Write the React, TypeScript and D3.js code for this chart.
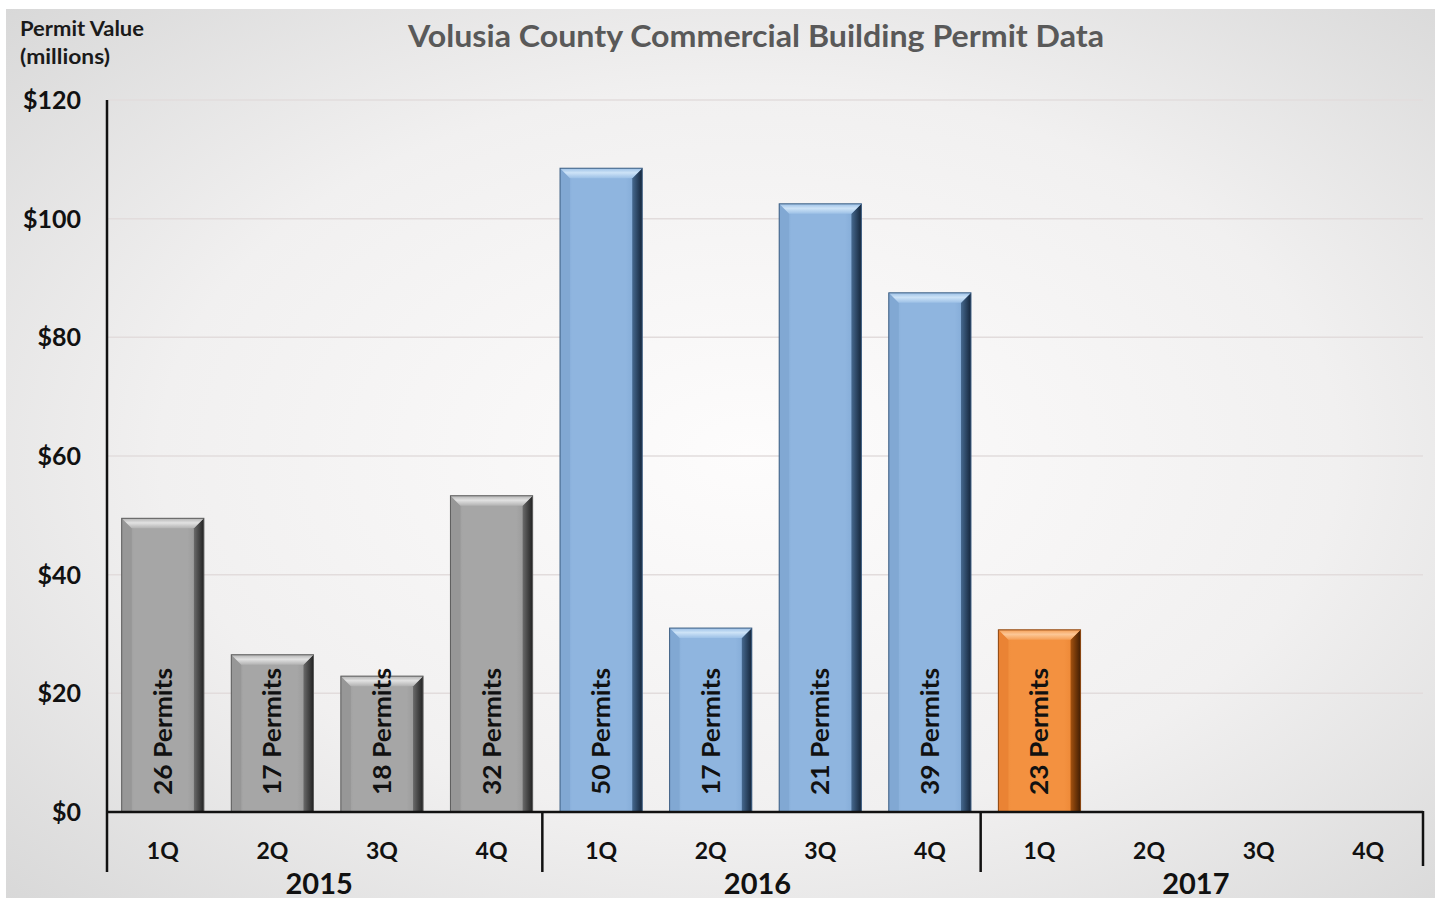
import React from "react";
import * as d3 from "d3";

const quarters = ["1Q", "2Q", "3Q", "4Q", "1Q", "2Q", "3Q", "4Q", "1Q", "2Q", "3Q", "4Q"];
const years = ["2015", "2016", "2017"];
const values: (number | null)[] = [49.5, 26.5, 22.9, 53.3, 108.5, 31.0, 102.5, 87.5, 30.7, null, null, null];
const permits: (number | null)[] = [26, 17, 18, 32, 50, 17, 21, 39, 23, null, null, null];
const yTicks = [0, 20, 40, 60, 80, 100, 120];

const W = 1435;
const H = 903;
const X0 = 108;
const X1 = 1423;
const Y0 = 812;
const Y1 = 100;

const palettes = {
  gray: { base: "#a6a6a6", baseEdge: "#8e8e8e", top1: "#e2e2e2", top2: "#b2b2b2", right1: "#6a6a6a", right2: "#222222", left: "#979797", stroke: "#5c5c5c" },
  blue: { base: "#8fb5df", baseEdge: "#7ba3d0", top1: "#cde3f7", top2: "#9cc0e6", right1: "#46698f", right2: "#14253a", left: "#81a8d3", stroke: "#3d5e82" },
  orange: { base: "#f39140", baseEdge: "#e6802e", top1: "#fcc796", top2: "#f59f56", right1: "#a5520f", right2: "#421e03", left: "#ea8334", stroke: "#8a4510" },
};

const FONT = "Lato, 'Open Sans', sans-serif";

export default function App() {
  const x = d3.scaleBand<number>().domain(d3.range(12)).range([X0, X1]).paddingInner(0.25).paddingOuter(0.125);
  const y = d3.scaleLinear().domain([0, 120]).range([Y0, Y1]);
  const step = (X1 - X0) / 12;
  const bw = x.bandwidth();
  const b = 10;

  const paletteFor = (i: number) => (i < 4 ? "gray" : i < 8 ? "blue" : "orange");

  return (
    <svg width={W} height={H} style={{ display: "block", position: "absolute", left: 0, top: 0 }}>
      <defs>
        <radialGradient id="bg" cx="52%" cy="50%" r="75%">
          <stop offset="0%" stopColor="#fdfcfc" />
          <stop offset="55%" stopColor="#f1f0f0" />
          <stop offset="100%" stopColor="#d6d6d6" />
        </radialGradient>
        {Object.entries(palettes).map(([k, p]) => (
          <React.Fragment key={k}>
            <linearGradient id={`body-${k}`} x1="0" x2="1" y1="0" y2="0">
              <stop offset="0%" stopColor={p.baseEdge} />
              <stop offset="15%" stopColor={p.base} />
              <stop offset="80%" stopColor={p.base} />
              <stop offset="100%" stopColor={p.baseEdge} />
            </linearGradient>
            <linearGradient id={`top-${k}`} x1="0" x2="0" y1="0" y2="1">
              <stop offset="0%" stopColor={p.top2} />
              <stop offset="45%" stopColor={p.top1} />
              <stop offset="100%" stopColor={p.top2} />
            </linearGradient>
            <linearGradient id={`right-${k}`} x1="0" x2="1" y1="0" y2="0">
              <stop offset="0%" stopColor={p.right1} />
              <stop offset="100%" stopColor={p.right2} />
            </linearGradient>
          </React.Fragment>
        ))}
      </defs>

      <rect x={0} y={0} width={W} height={H} fill="#ffffff" />
      <rect x={6} y={9} width={W - 6} height={889} fill="url(#bg)" />

      {/* gridlines */}
      {yTicks.filter((t) => t > 0).map((t) => (
        <line key={t} x1={X0} x2={X1} y1={y(t)} y2={y(t)} stroke="#e2dcdc" strokeWidth={1.5} />
      ))}

      {/* title */}
      <text x={756} y={47} textAnchor="middle" fontFamily={FONT} fontWeight={700} fontSize={31} fill="#595959" textLength={696} lengthAdjust="spacingAndGlyphs">
        Volusia County Commercial Building Permit Data
      </text>
      <text x={20} y={36} fontFamily={FONT} fontWeight={700} fontSize={20} fill="#1a1a1a" textLength={124} lengthAdjust="spacingAndGlyphs">Permit Value</text>
      <text x={20} y={64} fontFamily={FONT} fontWeight={700} fontSize={20} fill="#1a1a1a" textLength={90} lengthAdjust="spacingAndGlyphs">(millions)</text>

      {/* y tick labels */}
      {yTicks.map((t) => (
        <text key={t} x={81} y={y(t) + 9} textAnchor="end" fontFamily={FONT} fontWeight={700} fontSize={25} fill="#111">
          {`$${t}`}
        </text>
      ))}

      {/* bars */}
      {values.map((v, i) => {
        if (v == null) return null;
        const k = paletteFor(i);
        const p = (palettes as any)[k];
        const x0 = x(i)!;
        const x1 = x0 + bw;
        const y0 = y(v);
        const y1 = y(0);
        return (
          <g key={i}>
            <rect x={x0} y={y0} width={bw} height={y1 - y0} fill={`url(#body-${k})`} />
            <polygon points={`${x0},${y0} ${x0 + b},${y0 + b} ${x0 + b},${y1} ${x0},${y1}`} fill={p.left} />
            <polygon points={`${x1},${y0} ${x1},${y1} ${x1 - b},${y1} ${x1 - b},${y0 + b}`} fill={`url(#right-${k})`} />
            <polygon points={`${x0},${y0} ${x1},${y0} ${x1 - b},${y0 + b} ${x0 + b},${y0 + b}`} fill={`url(#top-${k})`} />
            <rect x={x0} y={y0} width={bw} height={y1 - y0} fill="none" stroke={p.stroke} strokeWidth={1} />
            <text
              transform={`translate(${x0 + bw / 2 + 9},${y1 - 17}) rotate(-90)`}
              fontFamily={FONT}
              fontWeight={700}
              fontSize={25}
              fill="#111"
              textLength={127}
              lengthAdjust="spacingAndGlyphs"
            >
              {`${permits[i]} Permits`}
            </text>
          </g>
        );
      })}

      {/* axes */}
      <line x1={X0 - 1} x2={X1} y1={Y0} y2={Y0} stroke="#111" strokeWidth={2.5} />
      <line x1={X0 - 1} x2={X0 - 1} y1={Y1} y2={872} stroke="#111" strokeWidth={2.5} />
      {[4, 8].map((g) => (
        <line key={g} x1={X0 + g * step - 4} x2={X0 + g * step - 4} y1={Y0} y2={872} stroke="#111" strokeWidth={2.5} />
      ))}
      <line x1={X1} x2={X1} y1={Y0 - 1} y2={866} stroke="#111" strokeWidth={2.5} />

      {/* quarter labels */}
      {quarters.map((q, i) => (
        <text key={i} x={x(i)! + bw / 2} y={859} textAnchor="middle" fontFamily={FONT} fontWeight={700} fontSize={23} fill="#111">
          {q}
        </text>
      ))}
      {years.map((yr, g) => (
        <text key={yr} x={X0 + (g * 4 + 2) * step - 8} y={894} textAnchor="middle" fontFamily={FONT} fontWeight={700} fontSize={29} fill="#111">
          {yr}
        </text>
      ))}
    </svg>
  );
}
